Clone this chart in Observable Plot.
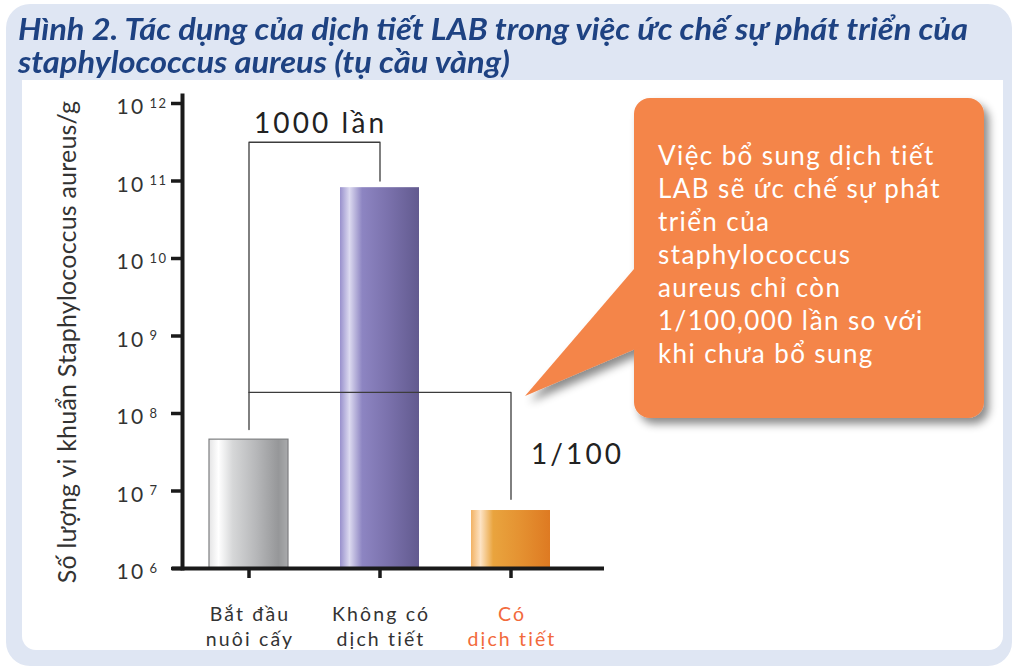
<!DOCTYPE html>
<html><head><meta charset="utf-8">
<script src="https://cdn.jsdelivr.net/npm/d3@7"></script>
<script src="https://cdn.jsdelivr.net/npm/@observablehq/plot@0.6"></script>
<style>
body{margin:0;background:#fff;}
#wrap{position:relative;width:1024px;height:670px;overflow:hidden;background:#fff;font-family:Lato,"Open Sans",sans-serif;}
#outer{position:absolute;left:6px;top:4px;width:1006px;height:662px;background:#dfe6f3;border-radius:24px;}
#panel{position:absolute;left:22px;top:80px;width:981px;height:570px;background:#fff;border-radius:0 0 14px 14px;}
.tline{position:absolute;left:18px;white-space:nowrap;transform-origin:0 0;font-family:Lato,"Open Sans",sans-serif;font-weight:bold;font-style:italic;font-size:30px;line-height:34px;color:#1e4282;}
#chart{position:absolute;left:0;top:0;}
#chart svg{overflow:visible;background:transparent;}
#chart svg text{letter-spacing:0.11em;}
#callout{position:absolute;left:0;top:0;pointer-events:none;}
#ctext{position:absolute;left:658px;top:139px;width:330px;color:#fff;font-size:26px;line-height:33px;letter-spacing:1.4px;font-family:Lato,"Open Sans",sans-serif;white-space:nowrap;}
</style></head>
<body><div id="wrap">
<div id="outer"></div>
<div id="panel"></div>
<div class="tline" id="t1" style="top:11px">Hình 2. Tác dụng của dịch tiết LAB trong việc ức chế sự phát triển của</div>
<div class="tline" id="t2" style="top:44px">staphylococcus aureus (tụ cầu vàng)</div>
<svg width="0" height="0" style="position:absolute">
<defs>
<linearGradient id="gGray" x1="0" x2="1" y1="0" y2="0">
<stop offset="0" stop-color="#e4e4e5"/><stop offset="0.12" stop-color="#ffffff"/><stop offset="0.3" stop-color="#d6d7d8"/><stop offset="0.6" stop-color="#b6b7b9"/><stop offset="0.88" stop-color="#969799"/><stop offset="1" stop-color="#a9aaac"/>
</linearGradient>
<linearGradient id="gPurple" x1="0" x2="1" y1="0" y2="0">
<stop offset="0" stop-color="#9890cc"/><stop offset="0.12" stop-color="#dcdaf0"/><stop offset="0.28" stop-color="#8d85c2"/><stop offset="0.6" stop-color="#7b72ad"/><stop offset="1" stop-color="#625a8f"/>
</linearGradient>
<linearGradient id="gOrange" x1="0" x2="1" y1="0" y2="0">
<stop offset="0" stop-color="#f2b264"/><stop offset="0.12" stop-color="#fde3c4"/><stop offset="0.28" stop-color="#e9a43e"/><stop offset="0.6" stop-color="#e59332"/><stop offset="1" stop-color="#de7a22"/>
</linearGradient>
</defs></svg>
<div id="chart"></div>
<svg id="callout" width="1024" height="670">
<defs><filter id="sh" x="-30%" y="-30%" width="160%" height="160%"><feDropShadow dx="5" dy="6" stdDeviation="4" flood-color="#000" flood-opacity="0.45"/></filter></defs>
<g filter="url(#sh)"><rect x="634" y="98" width="350" height="320" rx="16" fill="#f4854a"/><polygon points="640,262 525,396 640,347" fill="#f4854a"/></g>
</svg>
<div id="ctext">Việc bổ sung dịch tiết<br>LAB sẽ ức chế sự phát<br>triển của<br>staphylococcus<br>aureus chỉ còn<br>1/100,000 lần so với<br>khi chưa bổ sung</div>
</div>
<script>
const categories = ["Bắt đầu\nnuôi cấy", "Không có\ndịch tiết", "Có\ndịch tiết"];
const counts = [4.6e7, 8.2e10, 5.6e6];
const barFills = ["url(#gGray)", "url(#gPurple)", "url(#gOrange)"];
const barStrokes = ["#7d7e80", "none", "none"];
const yExponents = [6, 7, 8, 9, 10, 11, 12];
const yTitle = "Số lượng vi khuẩn Staphylococcus aureus/g";
const foldLabels = ["1000 lần", "1/100"];
const foldLabelCats = [0, 2];
const foldLabelLevels = [5.5e11, 2.95e7];
const upperBracketCats = [0, 0, 1, 1];
const upperBracketLevels = [6.2e7, 3.16e11, 3.16e11, 1e11];
const lowerBracketCats = [0, 2, 2];
const lowerBracketLevels = [1.87e8, 1.87e8, 7.8e6];

// condense the title lines to the reference width
(function () {
  const t1 = document.getElementById("t1"), t2 = document.getElementById("t2");
  const s = 950 / t1.getBoundingClientRect().width;
  t1.style.transform = `scaleX(${s})`;
  t2.style.transform = `scaleX(${s})`;
})();

const bars = categories.map((c, i) => ({c, v: counts[i]}));
const upper = upperBracketCats.map((k, i) => ({c: categories[k], v: upperBracketLevels[i]}));
const lower = lowerBracketCats.map((k, i) => ({c: categories[k], v: lowerBracketLevels[i]}));
const folds = foldLabels.map((t, i) => ({t, c: categories[foldLabelCats[i]], v: foldLabelLevels[i]}));
const yTicks = yExponents.map(e => 10 ** e);
const ink = "#1a1a1a", txt = "#333333", orange = "#f26a3b";

const plot = Plot.plot({
  width: 1024, height: 670,
  marginLeft: 182, marginRight: 448, marginTop: 103, marginBottom: 102,
  style: {fontFamily: "Lato, 'Open Sans', sans-serif", background: "transparent", color: txt},
  x: {type: "band", domain: categories, paddingInner: 0.4, paddingOuter: 0.2, axis: null},
  y: {type: "log", domain: [1e6, 1e12], axis: null},
  marks: [
    ...bars.map((b, i) => Plot.barY([b], {x: "c", y1: 1e6, y2: "v", fill: barFills[i], stroke: barStrokes[i], strokeWidth: 1.2})),
    Plot.line(upper, {x: "c", y: "v", stroke: "#3c3c3c", strokeWidth: 1.3}),
    Plot.line(lower, {x: "c", y: "v", stroke: "#3c3c3c", strokeWidth: 1.3}),
    Plot.axisY({ticks: yTicks, tickSize: 11, fill: "none", stroke: ink, strokeWidth: 3.5, label: null}),
    Plot.axisY({ticks: yTicks, tickSize: 0, tickPadding: 37, tickFormat: () => "10", fontSize: 21, dy: 4, fill: txt, label: null, textAnchor: "end"}),
    Plot.text(yExponents, {y: e => 10 ** e, text: e => String(e), frameAnchor: "left", dx: -33, textAnchor: "start", fontSize: 13, fill: txt}),
    Plot.frame({anchor: "left", stroke: ink, strokeWidth: 4, insetTop: -8}),
    Plot.ruleY([1e6], {stroke: ink, strokeWidth: 4, insetLeft: -10, insetRight: -28}),
    Plot.axisX({tickSize: 10, fill: "none", stroke: ink, strokeWidth: 3.5, label: null}),
    Plot.axisX({ticks: categories.slice(0, 2), tickSize: 0, tickPadding: 34.5, dx: 1, fontSize: 19.5, lineHeight: 1.28, fill: txt, label: null}),
    Plot.axisX({ticks: categories.slice(2), tickSize: 0, tickPadding: 34.5, dx: 1, fontSize: 19.5, lineHeight: 1.28, fill: orange, label: null}),
    Plot.text([yTitle], {frameAnchor: "left", rotate: -90, dx: -115, dy: 6, textAnchor: "middle", fontSize: 25, fill: txt}),
    Plot.text(folds.slice(0, 1), {x: "c", y: "v", text: "t", dx: 5, textAnchor: "start", fontSize: 28, fill: "#222"}),
    Plot.text(folds.slice(1), {x: "c", y: "v", text: "t", dx: 20, textAnchor: "start", fontSize: 28, fill: "#222"})
  ]
});
d3.select(plot).selectAll("text").filter(function () { return this.textContent === yTitle; }).style("letter-spacing", "0.2px");
document.getElementById("chart").appendChild(plot);
</script>
</body></html>
